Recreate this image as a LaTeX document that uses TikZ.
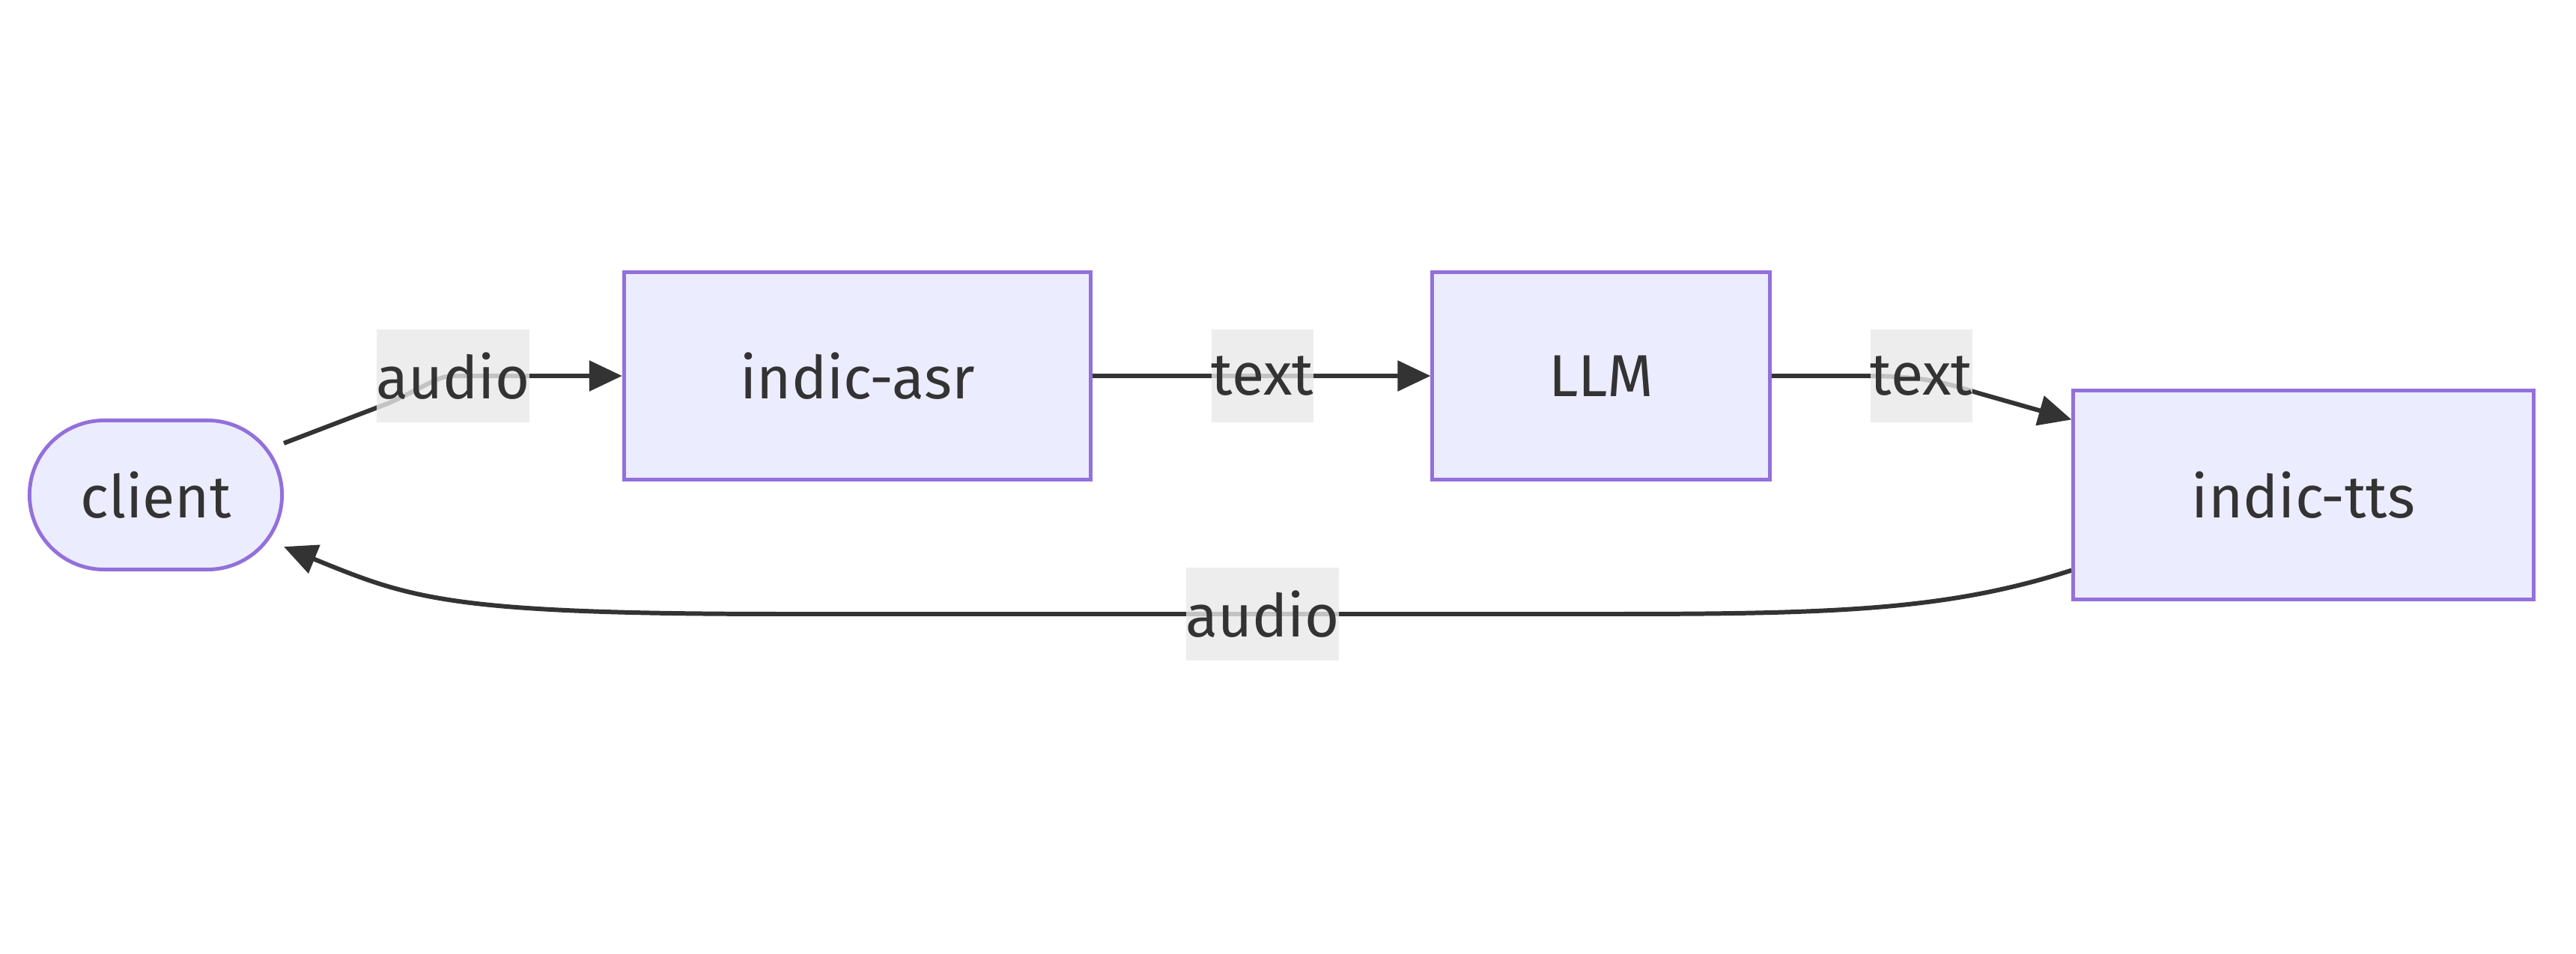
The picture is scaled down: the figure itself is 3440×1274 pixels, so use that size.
\documentclass[tikz,border=0pt]{standalone}
\usepackage{fontspec}
\setmainfont{Fira Sans}
\usepackage{xcolor}
\definecolor{lilac}{RGB}{236,236,255}
\definecolor{iris}{RGB}{147,112,219}
\definecolor{ink}{RGB}{51,51,51}
\definecolor{fog}{RGB}{232,232,232}
\usepackage{tikz}
\usetikzlibrary{arrows.meta,positioning,backgrounds}
\tikzset{
  %% Base: service boxes
  svc/.style={draw=iris, fill=lilac, line width=1.4pt, text=ink,
              font=\fontsize{22.5}{27}\selectfont,
              minimum height=2.77cm, inner sep=0pt},
  %% Stadium shaped end point
  endpt/.style={svc, minimum width=3.37cm, minimum height=1.99cm,
                rounded corners=0.995cm},
  %% Edge labels
  tag/.style={fill=fog, fill opacity=0.8, text opacity=1, text=ink,
              font=\fontsize{22.5}{27}\selectfont,
              inner xsep=0pt, minimum height=1.23cm},
  flow/.style={draw=ink, line width=1.7pt,
               -{Triangle[length=0.44cm,width=0.4cm]}},
}
\begin{document}
\begin{tikzpicture}[x=0.01cm,y=-0.01cm]
\useasboundingbox (0,0) rectangle (3440,1274);
\node[endpt] (client) at (208,661) {client};
\node[svc,minimum width=6.23cm] (asr) at (1145,502) {indic-asr};
\node[svc,minimum width=4.50cm] (llm) at (2138,502) {LLM};
\node[svc,minimum width=6.14cm,minimum height=2.79cm] (tts) at (3076,661) {indic-tts};
\node[tag] (a1) at (605,502) {audio};
\node[tag] (t1) at (1686,502) {text};
\node[tag] (t2) at (2566,502) {text};
\node[tag] (a2) at (1686,820) {audio};
\begin{scope}[on background layer]
\draw[flow] (client.22) -- (520,538) .. controls (570,515) and (585,502) .. (a1.center) -- (asr.west);
\draw[flow] (asr.east) -- (t1.center) -- (llm.west);
\draw[flow] (llm.east) -- (2490,502) .. controls (2570,502) and (2600,512) .. (2642,525) -- (tts.162);
\draw[flow] (tts.198) .. controls (2600,815) and (2450,820) .. (2150,820) -- (a2.center)
  -- (1050,820) .. controls (600,820) and (550,800) .. (client.-22);
\end{scope}
\end{tikzpicture}
\end{document}
